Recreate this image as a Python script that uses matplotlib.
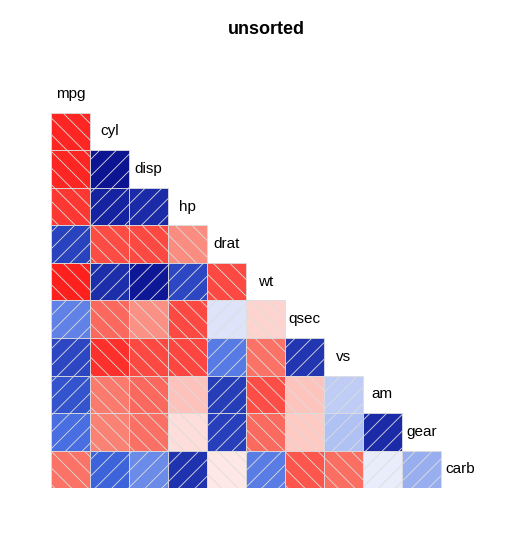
import numpy as np
import matplotlib
matplotlib.use("Agg")
import matplotlib.pyplot as plt
from matplotlib.colors import LinearSegmentedColormap
from matplotlib.patches import Rectangle

names = ["mpg","cyl","disp","hp","drat","wt","qsec","vs","am","gear","carb"]
lower = [
    [],
    [-0.85],
    [-0.85, 0.90],
    [-0.78, 0.83, 0.79],
    [0.68, -0.70, -0.71, -0.45],
    [-0.87, 0.78, 0.89, 0.66, -0.71],
    [0.42, -0.59, -0.43, -0.71, 0.09, -0.17],
    [0.66, -0.81, -0.71, -0.72, 0.44, -0.55, 0.74],
    [0.60, -0.52, -0.59, -0.24, 0.71, -0.69, -0.23, 0.17],
    [0.48, -0.49, -0.56, -0.13, 0.70, -0.58, -0.21, 0.21, 0.79],
    [-0.55, 0.53, 0.39, 0.75, -0.09, 0.43, -0.66, -0.57, 0.06, 0.27],
]

plt.rcParams['hatch.color'] = 'white'
plt.rcParams['hatch.linewidth'] = 0.6
cmap = LinearSegmentedColormap.from_list("cg", ["red","salmon","white","royalblue","navy"])

fig = plt.figure(figsize=(5.32,5.37), dpi=100)
ax = fig.add_axes([0.096, 0.091, 0.806, 0.769])
n = len(names)
for i in range(n):
    y = n-1-i
    for j, r in enumerate(lower[i]):
        ax.add_patch(Rectangle((j, y), 1, 1, facecolor=cmap((r+1)/2), edgecolor='#dddddd',
                               linewidth=0.6, hatch='//' if r > 0 else '\\\\'))
    ax.text(i+0.5, y+0.5, names[i], ha='center', va='center', fontsize=11,
            family='Liberation Sans')
ax.set_xlim(0, n); ax.set_ylim(0, n)
ax.axis('off')
fig.text(0.5, 0.945, "unsorted", ha='center', va='center', fontsize=13, fontweight='bold',
         family='Liberation Sans')
fig.savefig("out.png", dpi=100)
